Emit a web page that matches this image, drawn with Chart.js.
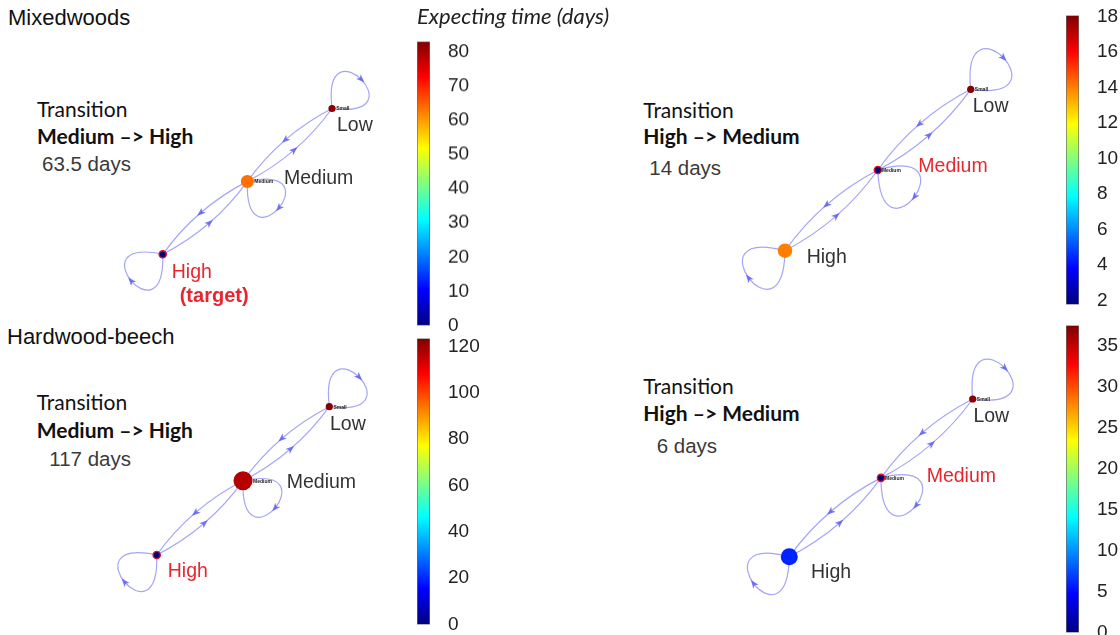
<!DOCTYPE html>
<html><head><meta charset="utf-8">
<script src="https://cdn.jsdelivr.net/npm/chart.js@4.4.1/dist/chart.umd.min.js"></script>
<style>
html,body{margin:0;padding:0;background:#fff;width:1120px;height:635px;overflow:hidden}
body{position:relative}
canvas{position:absolute}
.t{position:absolute;white-space:nowrap;line-height:1}
</style></head><body>
<script>
// ---------------- data ----------------
const nodeNames = ['Low', 'Medium', 'High'];
const nodeTags = ['Small', 'Medium', ''];
const layoutX = [2, 1, 0];
const layoutY = [2, 1, 0];
const edgeFrom = [0, 1, 1, 2];
const edgeTo = [1, 0, 2, 1];
const loopNodes = [0, 1, 2];

const panelTitles = ['Mixedwoods', '', 'Hardwood-beech', ''];
const transitionLabels = ['Medium –> High', 'High –> Medium', 'Medium –> High', 'High –> Medium'];
const durationLabels = ['63.5 days', '14 days', '117 days', '6 days'];
const targetNotes = ['(target)', '', '', ''];
const colorbarTitle = 'Expecting time (days)';

// expected time (days) of each node: Low, Medium, High
const timesMixedHM = [82, 63.5, 0];
const timesMixedMH = [18, 0, 14];
const timesBeechHM = [123, 117, 0];
const timesBeechMH = [37, 0, 6];
const targetNode = [2, 1, 2, 1];

// colorbar ranges and tick labels
const cbRangeA = [0, 83];
const cbRangeB = [1.77, 18.05];
const cbRangeC = [0, 123.5];
const cbRangeD = [0, 37.5];
const cbTicksA = [0, 10, 20, 30, 40, 50, 60, 70, 80];
const cbTicksB = [2, 4, 6, 8, 10, 12, 14, 16, 18];
const cbTicksC = [0, 20, 40, 60, 80, 100, 120];
const cbTicksD = [0, 5, 10, 15, 20, 25, 30, 35];

// ---------------- layout / style ----------------
const EDGE = 'rgba(105,105,240,0.6)';
const ARROW = 'rgba(95,95,240,0.85)';
const RED = '#e8262e';
const GREY = '#333';
const SANS = '"Liberation Sans", Arial, sans-serif';
const HUM = 'Lato, "Open Sans", sans-serif';

const panels = [
  { times: timesMixedHM, cbRange: cbRangeA, cbTicks: cbTicksA,
    net: { left: 0, top: 0, w: 410, h: 320, x: [-1.922, 2.921], y: [-0.901, 3.488] },
    radii: [3.6, 6.5, 3.6],
    loopAngles: [-45, 40, 140],
    labelOff: [[5, 22.7], [36.6, 2.6], [9, 23.3]], noteOff: [17, 47.7],
    cb: { left: 417, barTop: 41.7, barBottom: 323 },
    txt: { title: [8, 26], tr: [37, 116.7], bold: [37, 144], days: [42, 171.7] } },
  { times: timesMixedMH, cbRange: cbRangeB, cbTicks: cbTicksB,
    net: { left: 600, top: 0, w: 470, h: 320, x: [-1.992, 3.069], y: [-0.859, 3.107] },
    radii: [3.6, 3.6, 7.2],
    loopAngles: [-44, 36, 143],
    labelOff: [[2, 22.4], [40.5, 1.7], [21.7, 12.6]], noteOff: [0, 0],
    cb: { left: 1066, barTop: 15, barBottom: 301.7 },
    txt: { title: [0, 0], tr: [643.3, 117.3], bold: [643.3, 144], days: [649.3, 175] } },
  { times: timesBeechHM, cbRange: cbRangeC, cbTicks: cbTicksC,
    net: { left: 0, top: 320, w: 410, h: 315, x: [-1.816, 2.935], y: [-1.079, 3.169] },
    radii: [3.6, 9.5, 3.6],
    loopAngles: [-45, 40, 140],
    labelOff: [[0.7, 23.3], [43.7, 7.5], [11, 22.3]], noteOff: [0, 0],
    cb: { left: 417, barTop: 338, barBottom: 621.7 },
    txt: { title: [7, 345], tr: [36.7, 410], bold: [36.7, 437.3], days: [49.3, 466.7] } },
  { times: timesBeechMH, cbRange: cbRangeD, cbTicks: cbTicksD,
    net: { left: 600, top: 320, w: 460, h: 315, x: [-2.064, 2.952], y: [-0.993, 3.002] },
    radii: [3.6, 3.6, 8.5],
    loopAngles: [-44, 38, 143],
    labelOff: [[0.7, 22.7], [45.7, 3.9], [21.7, 21.6]], noteOff: [0, 0],
    cb: { left: 1066, barTop: 325, barBottom: 630 },
    txt: { title: [0, 0], tr: [643.3, 393.3], bold: [643.3, 420.7], days: [656.7, 453.3] } }
];

function jetRGB(t) {
  t = Math.max(0, Math.min(1, t));
  const c = v => Math.round(255 * Math.max(0, Math.min(1, v)));
  return [c(1.5 - Math.abs(4 * t - 3)), c(1.5 - Math.abs(4 * t - 2)), c(1.5 - Math.abs(4 * t - 1))];
}
function jet(t) { const [r, g, b] = jetRGB(t); return `rgb(${r},${g},${b})`; }

function addText(str, x, baseline, size, family, extra) {
  if (!str) return;
  const d = document.createElement('div');
  d.className = 't';
  d.textContent = str;
  const k = family === SANS ? 0.8465 : 0.887;
  d.style.left = x + 'px';
  d.style.top = (baseline - k * size) + 'px';
  d.style.fontSize = size + 'px';
  d.style.fontFamily = family;
  Object.assign(d.style, extra || {});
  document.body.appendChild(d);
}

function addCanvas(left, top, w, h) {
  const c = document.createElement('canvas');
  c.width = w; c.height = h;
  c.style.left = left + 'px'; c.style.top = top + 'px';
  c.style.width = w + 'px'; c.style.height = h + 'px';
  document.body.appendChild(c);
  return c;
}

function arrowHead(ctx, x, y, ang) {
  const ca = Math.cos(ang), sa = Math.sin(ang);
  const tip = 4.5, back = 4, half = 3.3, notch = 1.8;
  ctx.beginPath();
  ctx.moveTo(x + ca * tip, y + sa * tip);
  ctx.lineTo(x - ca * back - sa * half, y - sa * back + ca * half);
  ctx.lineTo(x - ca * notch, y - sa * notch);
  ctx.lineTo(x - ca * back + sa * half, y - sa * back - ca * half);
  ctx.closePath();
  ctx.fill();
}

const netPlugin = {
  id: 'net',
  beforeDatasetsDraw(chart, args, opts) {
    const P = opts.panel;
    const pts = chart.getDatasetMeta(0).data.map(e => ({ x: e.x, y: e.y }));
    const ctx = chart.ctx;
    ctx.save();
    ctx.strokeStyle = EDGE; ctx.fillStyle = ARROW; ctx.lineWidth = 1.2;
    edgeFrom.forEach((f, k) => {
      const p = pts[f], q = pts[edgeTo[k]];
      const dx = q.x - p.x, dy = q.y - p.y, len = Math.hypot(dx, dy);
      const nx = -dy / len, ny = dx / len, b = 0.12 * len;
      const cx = (p.x + q.x) / 2 + nx * b, cy = (p.y + q.y) / 2 + ny * b;
      ctx.beginPath(); ctx.moveTo(p.x, p.y); ctx.quadraticCurveTo(cx, cy, q.x, q.y); ctx.stroke();
      arrowHead(ctx, 0.25 * p.x + 0.5 * cx + 0.25 * q.x, 0.25 * p.y + 0.5 * cy + 0.25 * q.y, Math.atan2(dy, dx));
    });
    const unit = Math.hypot(pts[1].x - pts[2].x, pts[1].y - pts[2].y);
    const L = 0.8 * unit, th = 52 * Math.PI / 180;
    loopNodes.forEach((n, k) => {
      const N = pts[n], a = P.loopAngles[k] * Math.PI / 180;
      const p1 = { x: N.x + L * Math.cos(a - th), y: N.y + L * Math.sin(a - th) };
      const p2 = { x: N.x + L * Math.cos(a + th), y: N.y + L * Math.sin(a + th) };
      ctx.beginPath(); ctx.moveTo(N.x, N.y); ctx.bezierCurveTo(p1.x, p1.y, p2.x, p2.y, N.x, N.y); ctx.stroke();
      arrowHead(ctx, 0.25 * N.x + 0.375 * (p1.x + p2.x), 0.25 * N.y + 0.375 * (p1.y + p2.y), Math.atan2(p2.y - p1.y, p2.x - p1.x));
    });
    ctx.restore();
  },
  afterDatasetsDraw(chart, args, opts) {
    const P = opts.panel, ti = opts.target, note = opts.note;
    const els = chart.getDatasetMeta(0).data;
    const ctx = chart.ctx;
    ctx.save();
    ctx.textBaseline = 'alphabetic'; ctx.textAlign = 'left';
    els.forEach((e, i) => {
      if (nodeTags[i]) {
        ctx.font = 'bold 5px ' + SANS; ctx.fillStyle = '#222';
        ctx.fillText(nodeTags[i], e.x + P.radii[i] + 0.5, e.y + 2);
      }
      ctx.font = '19.5px ' + SANS;
      ctx.fillStyle = i === ti ? RED : GREY;
      ctx.fillText(nodeNames[i], e.x + P.labelOff[i][0], e.y + P.labelOff[i][1]);
      if (i === ti && note) {
        ctx.font = 'bold 20px ' + SANS; ctx.fillStyle = RED;
        ctx.fillText(note, e.x + P.noteOff[0], e.y + P.noteOff[1]);
      }
    });
    ctx.restore();
  }
};

Chart.defaults.font.family = SANS;

panels.forEach((P, pi) => {
  // annotations
  addText(panelTitles[pi], P.txt.title[0], P.txt.title[1], 22, SANS, { color: '#111' });
  addText('Transition', P.txt.tr[0], P.txt.tr[1], 21, HUM, { color: '#111' });
  addText(transitionLabels[pi], P.txt.bold[0], P.txt.bold[1], 21, HUM, { color: '#111', fontWeight: 'bold' });
  addText(durationLabels[pi], P.txt.days[0], P.txt.days[1], 20.5, SANS, { color: '#3a3a3a' });

  // network
  const [lo, hi] = P.cbRange;
  const fills = P.times.map(v => jet((v - lo) / (hi - lo)));
  const nc = addCanvas(P.net.left, P.net.top, P.net.w, P.net.h);
  new Chart(nc, {
    type: 'scatter',
    data: { datasets: [{
      data: layoutX.map((x, i) => ({ x, y: layoutY[i] })),
      pointRadius: P.radii,
      pointHoverRadius: P.radii,
      pointBackgroundColor: fills,
      pointBorderColor: fills.map((c, i) => i === targetNode[pi] ? '#d8141c' : c),
      pointBorderWidth: fills.map((c, i) => i === targetNode[pi] ? 1.4 : 0),
      clip: false
    }] },
    options: {
      responsive: false, animation: false, events: [],
      layout: { padding: 0, autoPadding: false },
      scales: {
        x: { type: 'linear', display: false, min: P.net.x[0], max: P.net.x[1] },
        y: { type: 'linear', display: false, min: P.net.y[0], max: P.net.y[1] }
      },
      plugins: { legend: { display: false }, tooltip: { enabled: false },
        net: { panel: P, target: targetNode[pi], note: targetNotes[pi] } }
    },
    plugins: [netPlugin]
  });

  // colorbar: canvas placed so that its chart area covers the bar box
  const PAD = 22.8;
  const cc = addCanvas(P.cb.left, P.cb.barTop - PAD, 63, P.cb.barBottom - P.cb.barTop + 2 * PAD);
  const cbChart = new Chart(cc, {
    type: 'bar',
    data: { labels: [''], datasets: [{
      data: [[lo, hi]],
      backgroundColor: (ctx) => {
        const ch = ctx.chart, a = ch.chartArea;
        if (!a) return '#888';
        const g = ch.ctx.createLinearGradient(0, a.bottom, 0, a.top);
        for (let s = 0; s <= 40; s++) g.addColorStop(s / 40, jet(s / 40));
        return g;
      },
      borderColor: '#6a6a6a', borderWidth: 1, borderSkipped: false,
      barPercentage: 1, categoryPercentage: 1
    }] },
    options: {
      responsive: false, animation: false, events: [],
      layout: { padding: 0, autoPadding: false },
      scales: {
        x: { display: false },
        y: { position: 'right', min: lo, max: hi,
          grid: { display: false }, border: { display: false },
          ticks: { padding: 10, color: '#222', font: { size: 19, family: SANS, lineHeight: 1.2 } },
          afterBuildTicks: s => { s.ticks = P.cbTicks.map(v => ({ value: v })); },
          afterFit: s => { s.width = 50; } }
      },
      plugins: { legend: { display: false }, tooltip: { enabled: false } }
    }
  });
  // fine alignment: shift canvas so the chart area top sits at the bar top
  const a = cbChart.chartArea;
  if (a) cc.style.top = (P.cb.barTop - a.top) + 'px';
});

addText(colorbarTitle, 417, 25, 22, HUM, { color: '#222', fontStyle: 'italic' });
</script>
</body></html>
